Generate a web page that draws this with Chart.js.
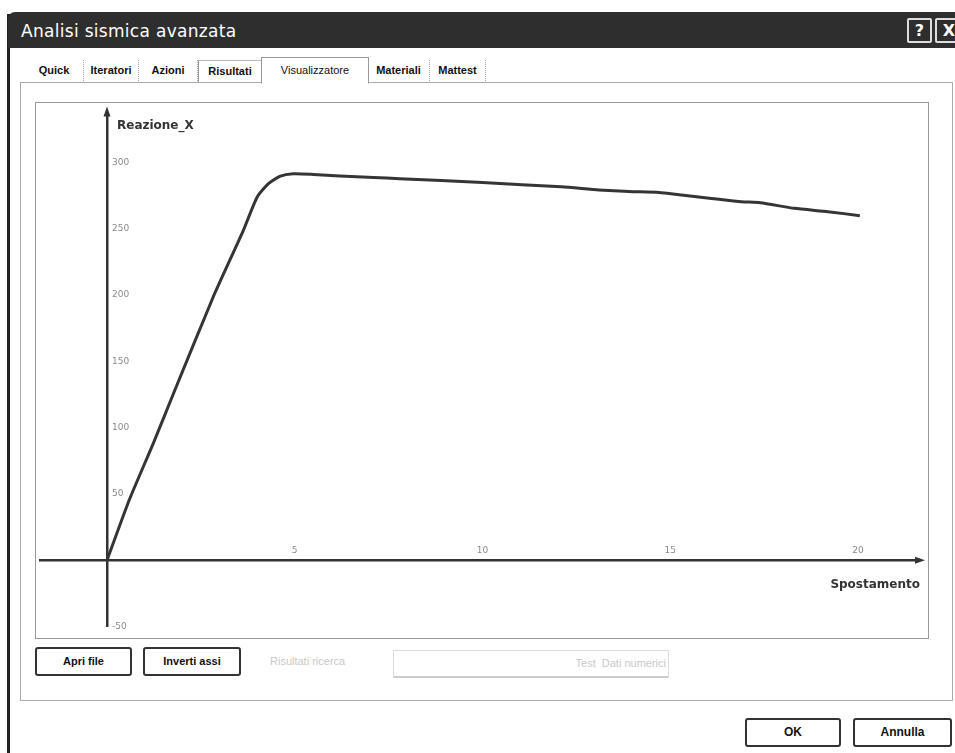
<!DOCTYPE html>
<html>
<head>
<meta charset="utf-8">
<title>Analisi sismica avanzata</title>
<script src="https://cdn.jsdelivr.net/npm/chart.js@4/dist/chart.umd.min.js"></script>
<style>
  body { margin: 0; width: 955px; height: 753px; background: #fff; position: relative; overflow: hidden; font-family: "Liberation Sans", Arial, sans-serif; }
  .abs { position: absolute; }
  #bordo { left: 7px; top: 14px; width: 3px; height: 739px; background: #222; }
  #barra { left: 8px; top: 12px; width: 947px; height: 36px; background: #2e2e2e; border-top-left-radius: 7px; }
  #barra span { position: absolute; left: 13px; top: 0; font: 17px "DejaVu Sans", sans-serif; line-height: 38px; color: #fff; letter-spacing: 0.3px; }
  .bt { top: 6px; height: 21px; border: 2px solid #ddd; border-radius: 2px; color: #fff; font: bold 16px "DejaVu Sans", sans-serif; text-align: center; line-height: 21px; }
  .tab { top: 60px; height: 21px; font: bold 11px "Liberation Sans", sans-serif; line-height: 21px; text-align: center; color: #111; border-right: 1px dotted #aaa; }
  .tab.sel { top: 57px; height: 25px; line-height: 25px; border: 1px solid #999; border-bottom: 1px solid #fff; background: #fff; font-weight: normal; z-index: 2; }
  #pannello { left: 20px; top: 82px; width: 931px; height: 617px; border: 1px solid #aaa; }
  #cornice { left: 35px; top: 102px; width: 892px; height: 535px; border: 1px solid #999; }
  #grafico { position: absolute; left: 36px; top: 103px; }
  .btn { height: 25px; border: 2px solid #333; border-radius: 3px; font: bold 11px "Liberation Sans", sans-serif; text-align: center; line-height: 25px; color: #111; background: #fff; }
  .spento { color: #c8c8c8; font: 11px "Liberation Sans", sans-serif; }
</style>
</head>
<body>
<div id="bordo" class="abs"></div>
<div id="barra" class="abs">
  <span>Analisi sismica avanzata</span>
  <div class="abs bt" style="left:899px;width:21px;">?</div>
  <div class="abs bt" style="left:927px;width:24px;">X</div>
</div>

<div id="pannello" class="abs"></div>
<div class="abs tab" style="left:25px;width:58px;">Quick</div>
<div class="abs tab" style="left:84px;width:54px;">Iteratori</div>
<div class="abs tab" style="left:139px;width:58px;">Azioni</div>
<div class="abs tab" style="left:198px;width:62px;border-left:1px solid #999;border-top:1px solid #bbb;">Risultati</div>
<div class="abs tab sel" style="left:261px;width:106px;">Visualizzatore</div>
<div class="abs tab" style="left:368px;width:61px;">Materiali</div>
<div class="abs tab" style="left:430px;width:55px;">Mattest</div>

<div id="cornice" class="abs"></div>
<canvas id="grafico" width="892" height="534"></canvas>

<div class="abs btn" style="left:35px;top:647px;width:93px;">Apri file</div>
<div class="abs btn" style="left:143px;top:647px;width:94px;">Inverti assi</div>
<div class="abs spento" style="left:270px;top:655px;">Risultati ricerca</div>
<div class="abs spento" style="left:393px;top:650px;width:272px;height:25px;border:1px solid #ddd;border-bottom:2px solid #ccc;text-align:right;line-height:25px;padding-right:2px;">Test &nbsp;Dati numerici</div>

<div class="abs btn" style="left:745px;top:718px;width:92px;font-size:12px;">OK</div>
<div class="abs btn" style="left:853px;top:718px;width:95px;font-size:12px;">Annulla</div>

<script>
// curva di capacita'
const spostamento = [0, 0.6, 1.23, 1.76, 2.82, 3.62, 4.0, 4.3, 4.6, 4.96, 5.5, 6.2, 7.1, 7.8, 10.0, 12.1, 13.1, 13.9, 14.7, 15.3, 16.1, 16.9, 17.4, 18.3, 19.2, 20.05];
const reazione = [0, 46, 88, 125, 198, 248, 274, 284, 289.5, 291.5, 291, 289.8, 288.6, 287.8, 284.8, 281.6, 279.3, 278.1, 277.4, 275.4, 272.9, 270.4, 269.7, 265.4, 262.9, 259.9];

const tickX = [5, 10, 15, 20];
const tickY = [-50, 50, 100, 150, 200, 250, 300];
const titoloX = "Spostamento";
const titoloY = "Reazione_X";

const scuro = '#333';

// frecce, tratto sinistro dell'asse x e nomi degli assi
const assi = {
    id: 'assi',
    afterDraw(chart) {
        const {ctx, chartArea: a, scales: {x, y}} = chart;
        const x0 = x.getPixelForValue(0);
        const y0 = y.getPixelForValue(0);
        ctx.save();
        ctx.strokeStyle = scuro;
        ctx.fillStyle = scuro;
        ctx.lineWidth = 2.5;
        ctx.beginPath();
        ctx.moveTo(3, y0);
        ctx.lineTo(a.left, y0);
        ctx.stroke();

        ctx.beginPath();
        ctx.moveTo(x0, a.top - 7);
        ctx.lineTo(x0 - 3.5, a.top + 3);
        ctx.lineTo(x0 + 3.5, a.top + 3);
        ctx.fill();
        ctx.beginPath();
        ctx.moveTo(a.right + 7, y0);
        ctx.lineTo(a.right - 3, y0 - 3.5);
        ctx.lineTo(a.right - 3, y0 + 3.5);
        ctx.fill();

        ctx.font = 'bold 12px "DejaVu Sans"';
        ctx.textBaseline = 'middle';
        ctx.textAlign = 'left';
        ctx.fillText(titoloY, x0 + 10, a.top + 12);
        ctx.textAlign = 'right';
        ctx.fillText(titoloX, a.right + 2, y0 + 25);
        ctx.restore();
    }
};

const punti = spostamento.map((s, i) => ({x: s, y: reazione[i]}));

new Chart(document.getElementById('grafico'), {
    type: 'line',
    data: {
        datasets: [{
            label: titoloY,
            data: punti,
            borderColor: '#353535',
            borderWidth: 3,
            pointRadius: 0,
            tension: 0.2
        }]
    },
    options: {
        responsive: false,
        animation: false,
        layout: { padding: { left: 71, right: 10, top: 10, bottom: 5 } },
        plugins: { legend: { display: false }, tooltip: { enabled: false } },
        scales: {
            x: {
                type: 'linear',
                position: { y: 0 },
                min: 0,
                max: 21.6,
                grid: { display: false, drawTicks: false },
                border: { color: scuro, width: 2.5 },
                ticks: {
                    stepSize: 5,
                    includeBounds: false,
                    autoSkip: false,
                    maxRotation: 0,
                    padding: -15,
                    color: '#8a8a8a',
                    font: { family: 'DejaVu Sans', size: 9 },
                    callback: v => tickX.includes(v) ? String(v) : ''
                },
                afterFit: s => { s.height = 0; }
            },
            y: {
                type: 'linear',
                position: 'left',
                min: -50,
                max: 337,
                grid: { display: false, drawTicks: false },
                border: { color: scuro, width: 2.5 },
                ticks: {
                    stepSize: 50,
                    includeBounds: false,
                    mirror: true,
                    padding: 5,
                    color: '#8a8a8a',
                    font: { family: 'DejaVu Sans', size: 9 },
                    callback: v => tickY.includes(v) ? String(v) : ''
                },
                afterFit: s => { s.width = 0; }
            }
        }
    },
    plugins: [assi]
});
</script>
</body>
</html>
